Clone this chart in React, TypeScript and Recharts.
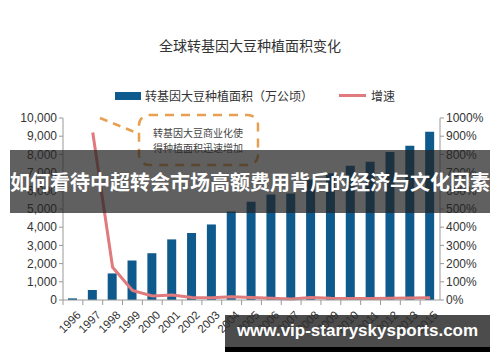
import React from "react";
import {
  Bar,
  ComposedChart,
  Legend,
  Line,
  XAxis,
  YAxis,
} from "recharts";

const years = [
  "1996", "1997", "1998", "1999", "2000", "2001", "2002", "2003", "2004", "2005",
  "2006", "2007", "2008", "2009", "2010", "2011", "2012", "2013", "2015",
];
const area = [
  90, 550, 1460, 2170, 2570, 3330, 3680, 4150, 4860, 5400,
  5800, 5850, 6620, 6960, 7380, 7600, 8130, 8470, 9250,
];
const growth = [
  null, 920, 180, 52, 22, 27, 14, 13, 18, 14,
  10, 6, 14, 9, 8, 8, 10, 11, 13,
];
const leftTicks = [0, 1000, 2000, 3000, 4000, 5000, 6000, 7000, 8000, 9000, 10000];
const rightTicks = [0, 100, 200, 300, 400, 500, 600, 700, 800, 900, 1000];

const BAR = "#0f5a8c";
const LINE = "#e07a7c";
const FONT = "'Liberation Sans', 'Noto Sans CJK SC', sans-serif";

const data = years.map((y, i) => ({ year: y, area: area[i], rate: growth[i] }));

function YearTick(props: any) {
  const { x, y, payload } = props;
  const half = 377 / years.length / 2;
  return (
    <g>
      <line x1={x - half} x2={x - half} y1={y - 8} y2={y - 3} stroke="#999" />
      <text
        x={x + 3}
        y={y + 2}
        transform={`rotate(-45 ${x + 3} ${y + 2})`}
        textAnchor="end"
        dominantBaseline="hanging"
        fontSize={11.5}
        fill="#333"
        fontFamily={FONT}
      >
        {payload.value}
      </text>
    </g>
  );
}

function LegendBox() {
  return (
    <div style={{ display: "flex", alignItems: "center", fontSize: 12, color: "#333", fontFamily: FONT }}>
      <span style={{ display: "inline-block", width: 26, height: 8, background: BAR, marginRight: 4 }} />
      <span>转基因大豆种植面积（万公顷）</span>
      <span style={{ display: "inline-block", width: 27, height: 3, background: LINE, marginLeft: 26, marginRight: 5 }} />
      <span>增速</span>
    </div>
  );
}

export default function App() {
  return (
    <div style={{ position: "fixed", left: 0, top: 0, width: 500, height: 362, background: "#fff", overflow: "hidden" }}>
      <div style={{ position: "absolute", top: 35, width: 500, textAlign: "center", fontSize: 14, color: "#333", fontFamily: FONT }}>
        全球转基因大豆种植面积变化
      </div>
      <ComposedChart
        width={500}
        height={362}
        data={data}
        margin={{ top: 101, right: 0, left: 0, bottom: 0 }}
        barCategoryGap={0}
      >
        <Legend
          verticalAlign="top"
          content={() => <LegendBox />}
          wrapperStyle={{ top: 87, left: 115, width: 300 }}
        />
        <XAxis
          dataKey="year"
          height={62}
          axisLine={{ stroke: "#999" }}
          tickLine={false}
          tick={<YearTick />}
          interval={0}
        />
        <YAxis
          yAxisId="left"
          width={63}
          domain={[0, 10000]}
          ticks={leftTicks}
          interval={0}
          tickFormatter={(v: number) => v.toLocaleString("en-US")}
          axisLine={{ stroke: "#999" }}
          tickLine={{ stroke: "#999" }}
          tickSize={4}
          tick={{ fontSize: 12, fill: "#333", fontFamily: FONT }}
        />
        <YAxis
          yAxisId="right"
          orientation="right"
          width={60}
          domain={[0, 1000]}
          ticks={rightTicks}
          interval={0}
          tickFormatter={(v: number) => `${v}%`}
          axisLine={{ stroke: "#999" }}
          tickLine={{ stroke: "#999" }}
          tickSize={4}
          tick={{ fontSize: 12, fill: "#333", fontFamily: FONT }}
        />
        <Bar yAxisId="left" dataKey="area" fill={BAR} barSize={9} isAnimationActive={false} />
        <Line
          yAxisId="right"
          dataKey="rate"
          stroke={LINE}
          strokeWidth={3}
          dot={false}
          type="linear"
          connectNulls={false}
          isAnimationActive={false}
        />
      </ComposedChart>

      {/* annotation */}
      <svg width={500} height={362} style={{ position: "absolute", left: 0, top: 0, pointerEvents: "none" }}>
        <line x1={100} y1={118} x2={137} y2={133} stroke="#e8a050" strokeWidth={2.5} strokeDasharray="8 6" />
        <rect x={139} y={115} width={119} height={50} rx={10} fill="none" stroke="#e8a050" strokeWidth={2.5} strokeDasharray="9 7" />
        <text x={153} y={137} fontSize={10} fill="#444" fontFamily={FONT}>转基因大豆商业化使</text>
        <text x={153} y={152} fontSize={10} fill="#444" fontFamily={FONT}>得种植面积迅速增加</text>
      </svg>

      {/* overlay band */}
      <div
        style={{
          position: "absolute",
          left: 10,
          top: 150,
          width: 480,
          height: 63,
          background: "rgba(35,35,35,0.72)",
          color: "#fff",
          fontWeight: "bold",
          fontSize: 20,
          lineHeight: "63px",
          textAlign: "center",
          fontFamily: "'Noto Sans CJK SC', sans-serif",
          whiteSpace: "nowrap",
        }}
      >
        如何看待中超转会市场高额费用背后的经济与文化因素
      </div>

      {/* watermark */}
      <div
        style={{
          position: "absolute",
          left: 225,
          top: 315,
          width: 265,
          height: 32,
          background: "rgba(45,45,45,0.85)",
          borderBottom: "5px solid #000",
          color: "#fff",
          fontWeight: "bold",
          fontSize: 17,
          lineHeight: "32px",
          textAlign: "center",
          fontFamily: "'Liberation Sans', sans-serif",
          whiteSpace: "nowrap",
        }}
      >
        www.vip-starryskysports.com
      </div>
    </div>
  );
}
